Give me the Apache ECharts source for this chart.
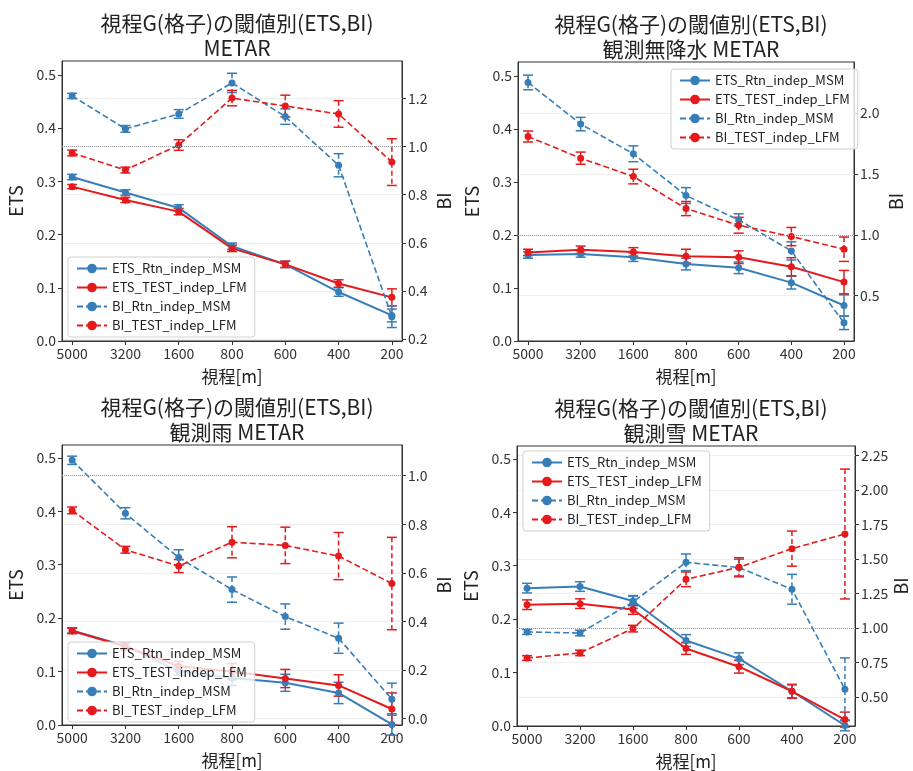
<!DOCTYPE html>
<html>
<head>
<meta charset="utf-8">
<script src="https://cdn.jsdelivr.net/npm/echarts@6/dist/echarts.min.js"></script>
<style>
  html, body { margin: 0; padding: 0; background: #fff; }
  #chart { width: 913px; height: 771px; }
</style>
</head>
<body>
<div id="chart"></div>
<script>
// 視程G(格子)の閾値別 ETS / BI（4パネル）
const categories = ['5000', '3200', '1600', '800', '600', '400', '200'];
const subTitles = ['METAR', '観測無降水 METAR', '観測雨 METAR', '観測雪 METAR'];
const seriesNames = ['ETS_Rtn_indep_MSM', 'ETS_TEST_indep_LFM', 'BI_Rtn_indep_MSM', 'BI_TEST_indep_LFM'];

// パネル順: METAR, 無降水, 雨, 雪
const etsMsm = [
    [0.308, 0.279, 0.250, 0.178, 0.144, 0.092, 0.048],
    [0.162, 0.164, 0.158, 0.145, 0.138, 0.110, 0.067],
    [0.177, 0.148, 0.101, 0.088, 0.079, 0.060, 0.001],
    [0.258, 0.261, 0.234, 0.160, 0.126, 0.065, 0.001]
];
const etsMsmErr = [
    [0.005, 0.005, 0.006, 0.006, 0.006, 0.008, 0.012],
    [0.006, 0.006, 0.008, 0.011, 0.011, 0.012, 0.020],
    [0.005, 0.006, 0.008, 0.014, 0.016, 0.020, 0.020],
    [0.009, 0.009, 0.009, 0.011, 0.011, 0.012, 0.010]
];
const etsLfm = [
    [0.290, 0.265, 0.243, 0.174, 0.144, 0.108, 0.082],
    [0.167, 0.172, 0.168, 0.160, 0.158, 0.140, 0.111],
    [0.176, 0.147, 0.110, 0.100, 0.087, 0.074, 0.030],
    [0.227, 0.229, 0.218, 0.145, 0.111, 0.065, 0.012]
];
const etsLfmErr = [
    [0.004, 0.005, 0.006, 0.006, 0.006, 0.007, 0.016],
    [0.006, 0.007, 0.008, 0.013, 0.012, 0.017, 0.022],
    [0.005, 0.007, 0.009, 0.015, 0.017, 0.020, 0.030],
    [0.009, 0.009, 0.009, 0.011, 0.012, 0.013, 0.014]
];
const biMsm = [
    [1.210, 1.073, 1.135, 1.264, 1.124, 0.922, 0.293],
    [2.252, 1.910, 1.666, 1.323, 1.123, 0.868, 0.277],
    [1.063, 0.845, 0.663, 0.531, 0.420, 0.331, 0.080],
    [0.971, 0.963, 1.188, 1.475, 1.437, 1.280, 0.556]
];
const biMsmErr = [
    [0.011, 0.014, 0.018, 0.040, 0.032, 0.048, 0.045],
    [0.060, 0.055, 0.065, 0.065, 0.050, 0.075, 0.055],
    [0.017, 0.023, 0.032, 0.052, 0.052, 0.062, 0.066],
    [0.018, 0.020, 0.046, 0.060, 0.060, 0.108, 0.227]
];
const biLfm = [
    [0.973, 0.902, 1.006, 1.201, 1.168, 1.135, 0.935],
    [1.808, 1.630, 1.479, 1.216, 1.079, 0.986, 0.882],
    [0.857, 0.695, 0.628, 0.726, 0.713, 0.669, 0.556],
    [0.782, 0.819, 0.995, 1.352, 1.439, 1.574, 1.680]
];
const biLfmErr = [
    [0.012, 0.012, 0.022, 0.032, 0.045, 0.055, 0.097],
    [0.045, 0.050, 0.060, 0.058, 0.065, 0.075, 0.100],
    [0.014, 0.014, 0.027, 0.064, 0.075, 0.097, 0.190],
    [0.017, 0.020, 0.024, 0.053, 0.069, 0.127, 0.470]
];

const etsTickLabels = ['0.0', '0.1', '0.2', '0.3', '0.4', '0.5'];
const biTickLabels = [
    ['0.2', '0.4', '0.6', '0.8', '1.0', '1.2'],
    ['0.5', '1.0', '1.5', '2.0'],
    ['0.0', '0.2', '0.4', '0.6', '0.8', '1.0'],
    ['0.50', '0.75', '1.00', '1.25', '1.50', '1.75', '2.00', '2.25']
];

// レイアウト
const grids = [
    { left: 62, top: 61, width: 340, height: 280 },
    { left: 518, top: 62, width: 336, height: 279 },
    { left: 62, top: 445, width: 340, height: 280 },
    { left: 517, top: 446, width: 338, height: 280 }
];
const etsMax = [0.526, 0.526, 0.524, 0.524];
const biRange = [[0.192, 1.355], [0.128, 2.42], [-0.026, 1.126], [0.29, 2.317]];
const legendPos = [
    { left: 68, top: 257 },
    { left: 671, top: 69 },
    { left: 68, top: 642 },
    { left: 523, top: 451 }
];

const BLUE = '#377eb8';
const RED = '#e41a1c';
const FONT = '"Noto Sans CJK JP", "Noto Sans", sans-serif';

function errData(vals, errs) {
    return vals.map((v, i) => [i, v - errs[i], v + errs[i]]);
}

function errorSeries(vals, errs, color, dashed, xi, yi) {
    return {
        type: 'custom',
        name: 'err',
        xAxisIndex: xi,
        yAxisIndex: yi,
        silent: true,
        encode: { x: 0, y: [1, 2] },
        data: errData(vals, errs),
        renderItem: function(params, api) {
            const top = api.coord([api.value(0), api.value(2)]);
            const bot = api.coord([api.value(0), api.value(1)]);
            const cap = 5;
            const style = { stroke: color, lineWidth: 1.5 };
            return {
                type: 'group',
                children: [
                    { type: 'line', shape: { x1: top[0], y1: top[1], x2: bot[0], y2: bot[1] },
                      style: Object.assign({ lineDash: dashed ? [5, 3] : null }, style) },
                    { type: 'line', shape: { x1: top[0] - cap, y1: top[1], x2: top[0] + cap, y2: top[1] }, style: style },
                    { type: 'line', shape: { x1: bot[0] - cap, y1: bot[1], x2: bot[0] + cap, y2: bot[1] }, style: style }
                ]
            };
        }
    };
}

function lineSeries(name, vals, color, dashed, xi, yi, withRef) {
    const s = {
        type: 'line',
        name: name,
        xAxisIndex: xi,
        yAxisIndex: yi,
        data: vals.map((v, i) => [i, v]),
        symbol: 'circle',
        symbolSize: 7,
        showSymbol: true,
        itemStyle: { color: color },
        lineStyle: { color: color, width: dashed ? 1.6 : 2, type: dashed ? [6, 3] : 'solid' }
    };
    if (withRef) {
        s.markLine = {
            silent: true,
            symbol: 'none',
            label: { show: false },
            lineStyle: { color: '#999', type: 'dotted', width: 1 },
            data: [{ yAxis: 1.0 }]
        };
    }
    return s;
}

const tickStyle = { color: '#333', fontSize: 14, fontFamily: FONT };
const option = {
    animation: false,
    backgroundColor: '#fff',
    textStyle: { fontFamily: FONT },
    title: [],
    legend: [],
    grid: [],
    xAxis: [],
    yAxis: [],
    series: []
};

for (let p = 0; p < 4; p++) {
    const g = grids[p];
    const cx = g.left + g.width / 2;
    option.title.push({
        text: '視程G(格子)の閾値別(ETS,BI)\n' + subTitles[p],
        left: cx,
        top: g.top - 55,
        textAlign: 'center',
        textStyle: { fontSize: 21, fontWeight: 'normal', color: '#222', lineHeight: 25, fontFamily: FONT }
    });
    option.grid.push({
        left: g.left, top: g.top, width: g.width, height: g.height,
        show: true, borderColor: '#333', borderWidth: 1, backgroundColor: 'transparent'
    });
    option.xAxis.push({
        type: 'value',
        gridIndex: p,
        min: -0.19,
        max: 6.19,
        name: '視程[m]',
        nameLocation: 'middle',
        nameGap: 27,
        nameTextStyle: { fontSize: 17, color: '#222', fontFamily: FONT },
        axisLine: { show: true, onZero: false, lineStyle: { color: '#333' } },
        axisTick: { show: true, length: 4, customValues: [0, 1, 2, 3, 4, 5, 6], lineStyle: { color: '#333' } },
        axisLabel: {
            customValues: [0, 1, 2, 3, 4, 5, 6],
            formatter: v => categories[Math.round(v)],
            margin: 6,
            ...tickStyle
        },
        splitLine: { show: false }
    });
    option.yAxis.push({
        type: 'value',
        gridIndex: p,
        position: 'left',
        min: 0,
        max: etsMax[p],
        name: 'ETS',
        nameLocation: 'middle',
        nameGap: 37,
        nameRotate: 90,
        nameTextStyle: { fontSize: 18, color: '#222', fontFamily: FONT },
        axisLine: { show: true, onZero: false, lineStyle: { color: '#333' } },
        axisTick: { show: true, length: 4, customValues: etsTickLabels.map(Number), lineStyle: { color: '#333' } },
        axisLabel: {
            customValues: etsTickLabels.map(Number),
            formatter: v => v.toFixed(1),
            margin: 6,
            ...tickStyle
        },
        splitLine: { show: false }
    });
    const biDec = biTickLabels[p][0].split('.')[1].length;
    option.yAxis.push({
        type: 'value',
        gridIndex: p,
        position: 'right',
        min: biRange[p][0],
        max: biRange[p][1],
        name: 'BI',
        nameLocation: 'middle',
        nameGap: 33,
        nameRotate: 90,
        nameTextStyle: { fontSize: 18, color: '#222', fontFamily: FONT },
        axisLine: { show: true, onZero: false, lineStyle: { color: '#333' } },
        axisTick: { show: true, length: 4, customValues: biTickLabels[p].map(Number), lineStyle: { color: '#333' } },
        axisLabel: {
            customValues: biTickLabels[p].map(Number),
            formatter: v => v.toFixed(biDec),
            margin: 6,
            ...tickStyle
        },
        splitLine: { show: true, lineStyle: { color: '#eeeeee', width: 1 } }
    });

    const yl = p * 2, yr = p * 2 + 1;
    option.series.push(
        errorSeries(etsMsm[p], etsMsmErr[p], BLUE, false, p, yl),
        lineSeries(seriesNames[0], etsMsm[p], BLUE, false, p, yl, false),
        errorSeries(etsLfm[p], etsLfmErr[p], RED, false, p, yl),
        lineSeries(seriesNames[1], etsLfm[p], RED, false, p, yl, false),
        errorSeries(biMsm[p], biMsmErr[p], BLUE, true, p, yr),
        lineSeries(seriesNames[2], biMsm[p], BLUE, true, p, yr, true),
        errorSeries(biLfm[p], biLfmErr[p], RED, true, p, yr),
        lineSeries(seriesNames[3], biLfm[p], RED, true, p, yr, false)
    );

    option.legend.push({
        data: seriesNames,
        orient: 'vertical',
        left: legendPos[p].left,
        top: legendPos[p].top,
        itemWidth: 30,
        itemHeight: 12,
        itemGap: 6,
        padding: [5, 8],
        borderColor: '#d0d0d0',
        borderWidth: 1,
        borderRadius: 3,
        backgroundColor: 'rgba(255,255,255,0.8)',
        selectedMode: false,
        textStyle: { fontSize: 13, color: '#222', fontFamily: FONT }
    });
}

const myChart = echarts.init(document.getElementById('chart'));
myChart.setOption(option);

window.addEventListener('resize', function() {
    myChart.resize();
});
</script>
</body>
</html>
